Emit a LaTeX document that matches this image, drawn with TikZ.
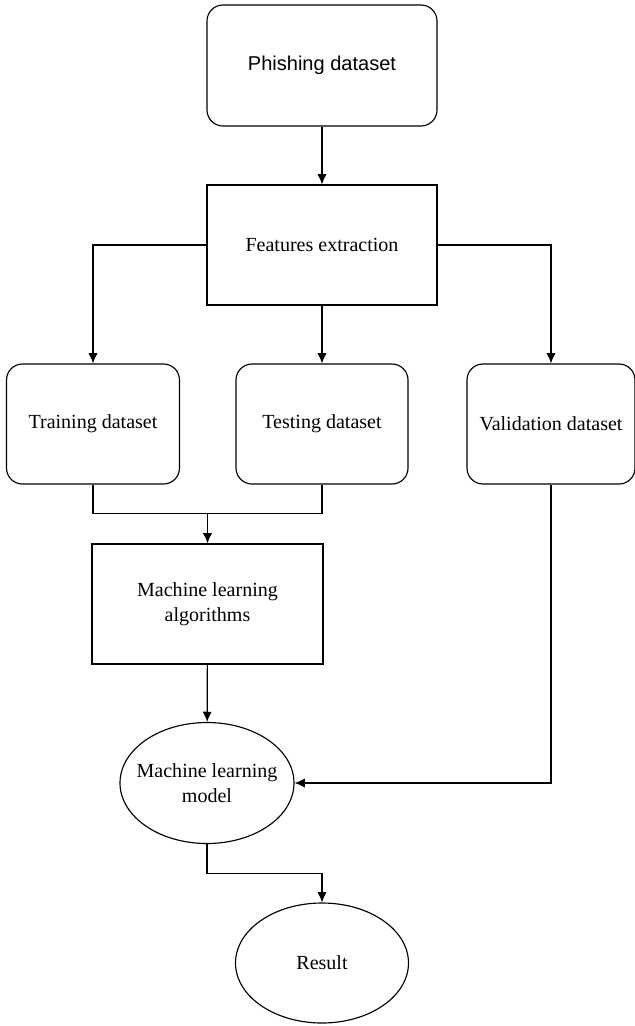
\documentclass[tikz,border=0pt]{standalone}
\usepackage{fontspec}
\setmainfont{Liberation Serif}
\newfontfamily\phishfont{Liberation Sans}
\usepackage{tikz}
\usetikzlibrary{calc, shapes.geometric, positioning, arrows.meta}

\begin{document}
\begin{tikzpicture}[>={Latex[length=5.8pt, width=5.2pt]}, line width=0.65pt,
    font=\fontsize{11.4}{14.2}\selectfont,
    roundbox/.style={draw, rounded corners=0.32cm, align=center, minimum height=2.4cm},
    squarebox/.style={draw, align=center, minimum height=2.4cm},
    ovalbox/.style={draw, ellipse, align=center, inner sep=0pt, inner xsep=-0.25cm}]
    % Khung hình
    \useasboundingbox (0,0) rectangle (12.7,-20.52);

    % Các khối
    \node[roundbox, minimum width=4.6cm, minimum height=2.42cm] (phish) at (6.44,-1.31) {\phishfont Phishing dataset};
    \node[squarebox, minimum width=4.6cm] (feat) at (6.44,-4.9) {Features extraction};
    \node[roundbox, minimum width=3.46cm] (train) at (1.86,-8.48) {Training dataset};
    \node[roundbox, minimum width=3.44cm] (test) at (6.44,-8.48) {Testing dataset};
    \node[roundbox, minimum width=3.36cm] (valid) at (11.02,-8.48) {Validation dataset};
    \node[squarebox, minimum width=4.62cm] (alg) at (4.15,-12.08) {Machine learning\\algorithms};
    \node[ovalbox, minimum width=3.48cm, minimum height=2.42cm] (model) at (4.14,-15.66) {Machine learning\\model};
    \node[ovalbox, minimum width=3.46cm, minimum height=2.4cm] (result) at (6.44,-19.26) {Result};

    % Các mũi tên
    \draw[->] (phish) -- (feat);
    \draw[->] (feat.west) -| (train.north);
    \draw[->] (feat) -- (test);
    \draw[->] (feat.east) -| (valid.north);

    \coordinate (join) at ($(alg.north)+(0,0.6)$);
    \draw (train.south) |- (join) -| (test.south);
    \draw[->] (join) -- (alg.north);
    \draw[->] (alg) -- (model);
    \draw[->] (valid.south) |- (model.east);
    \draw[->] (model.south) -- ++(0,-0.58) -| (result.north);

\end{tikzpicture}
\end{document}
